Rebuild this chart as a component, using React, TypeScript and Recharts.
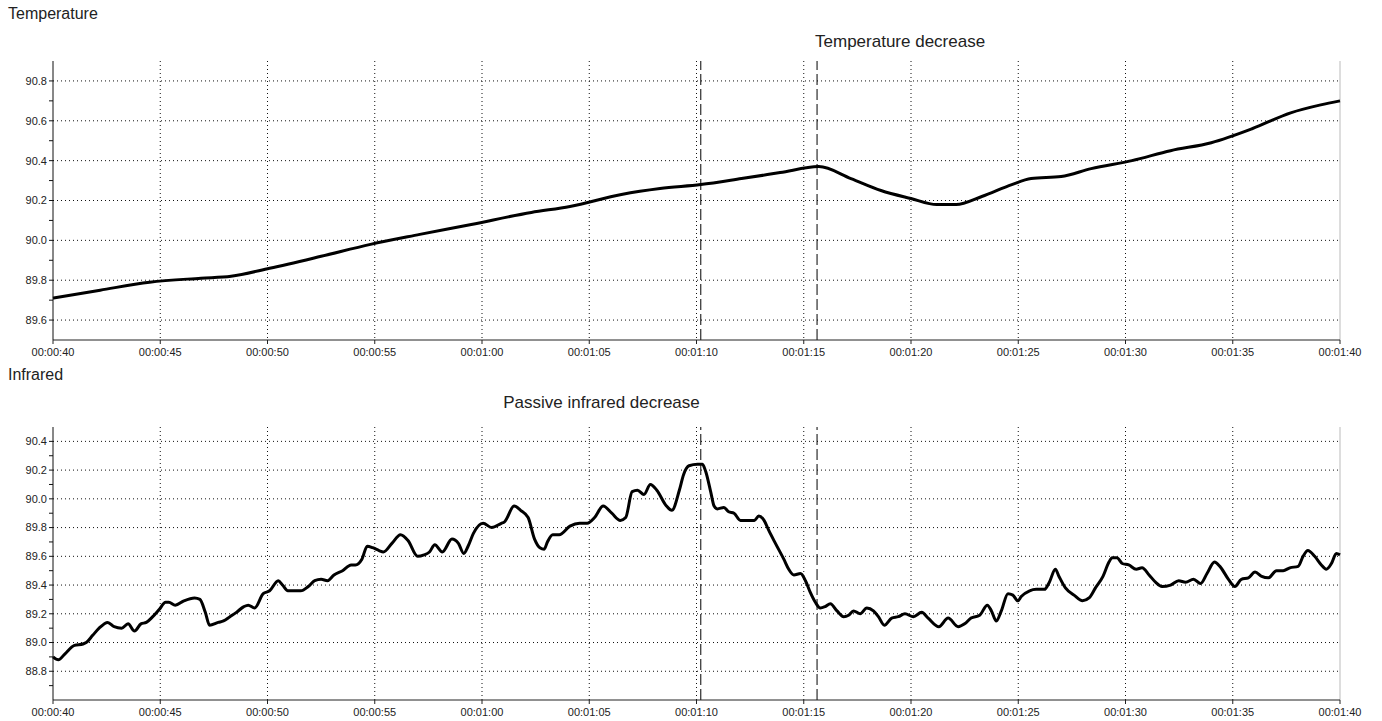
import React from "react";
import { LineChart, Line, XAxis, YAxis, CartesianGrid, ReferenceLine } from "recharts";

const FONT = "'Liberation Sans', Arial, sans-serif";

// seconds since 00:00:00
const xTicks = [40, 45, 50, 55, 60, 65, 70, 75, 80, 85, 90, 95, 100];
const xGrid = [45, 50, 55, 60, 65, 70, 75, 80, 85, 90, 95];
const markers = [70.2, 75.62];

const tempTimes = [
  40, 42.2, 44.5, 46.9, 48.3, 50.1, 52.5, 54.8, 57.1, 59.5, 62.3, 64.1, 66.5, 68.3, 70.2, 72.1, 73.9,
  75.7, 77.2, 78.6, 80.0, 81.2, 82.1, 83.3, 84.7, 85.6, 87.0, 88.4, 90.3, 92.1, 94.0, 95.9, 97.7, 99.1, 100,
];
const tempValues = [
  89.71, 89.75, 89.79, 89.81, 89.82, 89.86, 89.92, 89.98, 90.03, 90.08, 90.14, 90.17, 90.23, 90.26, 90.28,
  90.31, 90.34, 90.37, 90.31, 90.25, 90.21, 90.18, 90.18, 90.22, 90.28, 90.31, 90.32, 90.36, 90.4, 90.45,
  90.49, 90.56, 90.64, 90.68, 90.7,
];
const tempTicks = [89.6, 89.7, 89.8, 89.9, 90.0, 90.1, 90.2, 90.3, 90.4, 90.5, 90.6, 90.7, 90.8];
const tempGrid = [89.6, 89.8, 90.0, 90.2, 90.4, 90.6, 90.8];

const irTimes = [
  40.0, 40.25, 40.55, 41.0, 41.4, 41.55, 41.85, 42.15, 42.55, 42.85, 43.2, 43.5, 43.8, 44.1, 44.35, 44.65,
  44.95, 45.25, 45.4, 45.7, 46.1, 46.6, 46.85, 47.1, 47.3, 47.7, 47.95, 48.25, 48.55, 48.9, 49.1, 49.4,
  49.8, 50.1, 50.5, 50.7, 50.95, 51.55, 51.9, 52.2, 52.5, 52.8, 53.1, 53.5, 53.9, 54.1, 54.4, 54.65, 54.9,
  55.2, 55.4, 55.8, 56.2, 56.55, 57.0, 57.3, 57.55, 57.8, 58.15, 58.6, 58.9, 59.15, 59.35, 59.6, 60.05,
  60.45, 60.9, 61.05, 61.5, 61.8, 62.15, 62.45, 62.7, 62.9, 63.05, 63.3, 63.6, 64.1, 64.55, 64.9, 65.25,
  65.65, 66.05, 66.45, 66.7, 67.0, 67.25, 67.55, 67.85, 68.15, 68.6, 68.85, 69.2, 69.4, 69.65, 70.05,
  70.28, 70.43, 70.66, 70.82, 70.97, 71.28, 71.5, 71.75, 72.05, 72.37, 72.7, 72.9, 73.15, 73.37, 73.68,
  74.07, 74.3, 74.54, 74.85, 75.08, 75.3, 75.54, 75.77, 76.0, 76.24, 76.55, 76.86, 77.09, 77.32, 77.63,
  77.94, 78.25, 78.48, 78.76, 79.1, 79.41, 79.72, 80.11, 80.5, 80.8, 81.3, 81.73, 82.2, 82.5, 82.8, 83.2,
  83.56, 83.75, 83.98, 84.21, 84.52, 84.75, 84.98, 85.14, 85.53, 85.84, 86.22, 86.45, 86.73, 86.9, 87.2,
  87.6, 88.0, 88.3, 88.6, 88.95, 89.23, 89.38, 89.6, 89.85, 90.15, 90.5, 90.77, 91.1, 91.4, 91.7, 92.1,
  92.48, 92.8, 93.17, 93.5, 93.8, 94.15, 94.4, 94.8, 95.1, 95.4, 95.73, 96.04, 96.35, 96.66, 97.04, 97.35,
  97.66, 98.05, 98.28, 98.5, 98.82, 99.13, 99.36, 99.6, 99.83, 100,
];
const irValues = [
  88.9, 88.88, 88.92, 88.98, 88.99, 89.0, 89.05, 89.1, 89.14, 89.11, 89.1, 89.13, 89.08, 89.13, 89.14,
  89.18, 89.23, 89.28, 89.28, 89.26, 89.29, 89.31, 89.3, 89.21, 89.12, 89.14, 89.15, 89.18, 89.21, 89.25,
  89.26, 89.24, 89.34, 89.36, 89.43, 89.4, 89.36, 89.36, 89.39, 89.43, 89.44, 89.43, 89.47, 89.5, 89.54,
  89.54, 89.58, 89.67, 89.66, 89.64, 89.63, 89.69, 89.75, 89.71, 89.6, 89.61, 89.63, 89.68, 89.63, 89.72,
  89.69, 89.62, 89.67, 89.76, 89.83, 89.8, 89.83, 89.84, 89.95, 89.92, 89.87, 89.72, 89.66, 89.65, 89.7,
  89.75, 89.75, 89.81, 89.83, 89.83, 89.87, 89.95, 89.9, 89.85, 89.87, 90.05, 90.06, 90.03, 90.1, 90.06,
  89.95, 89.92, 90.06, 90.17, 90.23, 90.24, 90.24, 90.19, 90.05, 89.95, 89.93, 89.94, 89.91, 89.9, 89.85,
  89.85, 89.85, 89.88, 89.85, 89.78, 89.69, 89.58, 89.51, 89.47, 89.48, 89.43, 89.35, 89.28, 89.24, 89.25,
  89.27, 89.22, 89.18, 89.19, 89.22, 89.2, 89.24, 89.22, 89.18, 89.12, 89.17, 89.18, 89.2, 89.18, 89.21,
  89.17, 89.11, 89.17, 89.11, 89.13, 89.17, 89.19, 89.26, 89.22, 89.15, 89.22, 89.34, 89.33, 89.29, 89.32,
  89.36, 89.37, 89.37, 89.42, 89.51, 89.46, 89.38, 89.33, 89.29, 89.31, 89.38, 89.46, 89.56, 89.59, 89.59,
  89.55, 89.54, 89.51, 89.52, 89.47, 89.42, 89.39, 89.4, 89.43, 89.42, 89.44, 89.41, 89.48, 89.56, 89.53,
  89.44, 89.39, 89.44, 89.45, 89.49, 89.46, 89.45, 89.5, 89.5, 89.52, 89.53, 89.6, 89.64, 89.6, 89.54,
  89.51, 89.55, 89.62, 89.61,
];
const irTicks = [88.7, 88.8, 88.9, 89.0, 89.1, 89.2, 89.3, 89.4, 89.5, 89.6, 89.7, 89.8, 89.9, 90.0, 90.1, 90.2, 90.3, 90.4];
const irGrid = [88.8, 89.0, 89.2, 89.4, 89.6, 89.8, 90.0, 90.2, 90.4];

const tempData = tempTimes.map((t, i) => ({ t, v: tempValues[i] }));
const irData = irTimes.map((t, i) => ({ t, v: irValues[i] }));

function fmtTime(t: number) {
  const m = Math.floor(t / 60);
  const s = Math.round(t % 60);
  return `00:${String(m).padStart(2, "0")}:${String(s).padStart(2, "0")}`;
}

function fmtY(v: number) {
  return Math.round(v * 10) % 2 === 0 ? v.toFixed(1) : "";
}

const tickStyle = { fontSize: 11, fill: "#222", fontFamily: FONT };

interface PanelProps {
  data: { t: number; v: number }[];
  domain: [number, number];
  ticks: number[];
  grid: number[];
  height: number;
  top: number;
  marginTop: number;
  xAxisHeight: number;
  note: string;
  noteAt: number;
  noteAnchor: "start" | "end";
  noteDx: number;
  noteDy: number;
}

const Panel = (p: PanelProps) => (
  <div style={{ position: "absolute", left: 0, top: p.top }}>
    <LineChart width={1382} height={p.height} data={p.data} margin={{ top: p.marginTop, right: 42, left: 0, bottom: 0 }}>
      <CartesianGrid
        horizontalValues={p.grid}
        verticalValues={xGrid}
        stroke="#111"
        strokeDasharray="1 3"
      />
      <XAxis
        dataKey="t"
        type="number"
        domain={[40, 100]}
        ticks={xTicks}
        tickFormatter={fmtTime}
        height={p.xAxisHeight}
        tickSize={4}
        tickMargin={4}
        stroke="#222"
        tick={tickStyle}
        interval={0}
      />
      <YAxis
        type="number"
        domain={p.domain}
        ticks={p.ticks}
        tickFormatter={fmtY}
        width={53}
        tickSize={4}
        tickMargin={2}
        stroke="#111"
        tick={tickStyle}
        interval={0}
        allowDataOverflow
      />
      <ReferenceLine x={100} stroke="#bbb" />
      {markers.map((m) => (
        <ReferenceLine
          key={m}
          x={m}
          stroke="#000"
          strokeDasharray="11 4"
          label={
            m === p.noteAt
              ? (lp: any) => (
                  <text
                    x={lp.viewBox.x + p.noteDx}
                    y={lp.viewBox.y + p.noteDy}
                    textAnchor={p.noteAnchor}
                    fontSize={17}
                    fill="#222"
                    fontFamily={FONT}
                  >
                    {p.note}
                  </text>
                )
              : undefined
          }
        />
      ))}
      <Line type="monotone" dataKey="v" stroke="#000" strokeWidth={3} dot={false} isAnimationActive={false} />
    </LineChart>
  </div>
);

export default function App() {
  const title = { position: "absolute" as const, left: 8, fontSize: 16, color: "#222", fontFamily: FONT, lineHeight: "18px" };
  return (
    <div style={{ position: "absolute", left: 0, top: 0, width: 1382, height: 721, background: "#fff" }}>
      <div style={{ ...title, top: 5 }}>Temperature</div>
      <div style={{ ...title, top: 366 }}>Infrared</div>
      <Panel
        data={tempData}
        domain={[89.5, 90.9]}
        ticks={tempTicks}
        grid={tempGrid}
        height={370}
        top={0}
        marginTop={61}
        xAxisHeight={30}
        note="Temperature decrease"
        noteAt={75.62}
        noteAnchor="start"
        noteDx={-2}
        noteDy={-14}
      />
      <Panel
        data={irData}
        domain={[88.6, 90.5]}
        ticks={irTicks}
        grid={irGrid}
        height={351}
        top={370}
        marginTop={57}
        xAxisHeight={21}
        note="Passive infrared decrease"
        noteAt={70.2}
        noteAnchor="end"
        noteDx={-1}
        noteDy={-19}
      />
    </div>
  );
}
